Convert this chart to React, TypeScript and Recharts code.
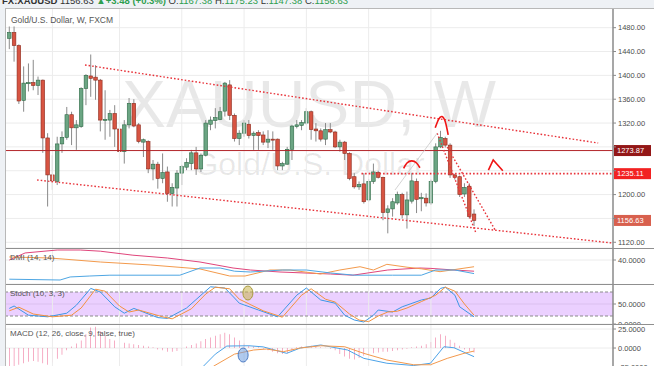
import React from "react";
import {
  ComposedChart,
  Bar,
  Line,
  XAxis,
  YAxis,
  CartesianGrid,
  ReferenceLine,
  ReferenceArea,
  ReferenceDot,
} from "recharts";

const FONT = '"Liberation Sans", Arial, sans-serif';
const W = 654;
const AXIS_W = 41;
const X_DOMAIN: [number, number] = [-0.69, 126];
const BODY_W = 3.6;

// weekly OHLC, XAUUSD
const opens = [
  1462, 1472, 1450, 1358, 1386, 1388, 1383, 1392, 1295, 1233,
  1222, 1285, 1296, 1334, 1312, 1314, 1378, 1399, 1397, 1392,
  1325, 1325, 1336, 1310, 1272, 1317, 1353, 1317, 1288, 1289,
  1243, 1251, 1227, 1238, 1202, 1211, 1236, 1246, 1252, 1270,
  1243, 1266, 1318, 1324, 1326, 1340, 1384, 1333, 1294, 1303,
  1318, 1299, 1304, 1300, 1288, 1293, 1293, 1248, 1251, 1276,
  1314, 1316, 1320, 1339, 1310, 1307, 1293, 1309, 1305, 1280,
  1288, 1269, 1230, 1213, 1218, 1191, 1222, 1237, 1229, 1170,
  1176, 1186, 1200, 1166, 1189, 1222, 1193, 1194, 1186, 1222,
  1280, 1294, 1283, 1233, 1230, 1201, 1214, 1167.38,
];
const highs = [
  1482, 1482, 1452, 1415, 1420, 1426, 1398, 1393, 1303, 1266,
  1297, 1306, 1347, 1339, 1325, 1380, 1402, 1435, 1417, 1394,
  1375, 1342, 1350, 1331, 1325, 1362, 1360, 1320, 1294, 1291,
  1258, 1255, 1269, 1247, 1219, 1241, 1250, 1261, 1275, 1280,
  1269, 1325, 1331, 1345, 1347, 1389, 1392, 1336, 1308, 1325,
  1325, 1306, 1308, 1306, 1308, 1306, 1294, 1255, 1280, 1317,
  1325, 1325, 1345, 1341, 1320, 1311, 1320, 1320, 1307, 1292,
  1290, 1271, 1236, 1222, 1236, 1226, 1252, 1240, 1230, 1182,
  1194, 1205, 1203, 1205, 1236, 1227, 1203, 1202, 1225, 1286,
  1307, 1297, 1286, 1235, 1232, 1219, 1219, 1175.23,
];
const lows = [
  1444, 1423, 1352, 1339, 1373, 1375, 1367, 1270, 1180, 1208,
  1216, 1270, 1292, 1283, 1275, 1312, 1350, 1364, 1359, 1306,
  1292, 1297, 1280, 1261, 1252, 1311, 1313, 1286, 1263, 1236,
  1224, 1210, 1219, 1188, 1180, 1180, 1216, 1241, 1241, 1233,
  1238, 1264, 1308, 1311, 1325, 1331, 1325, 1289, 1283, 1297,
  1294, 1275, 1275, 1283, 1278, 1275, 1241, 1241, 1250, 1258,
  1311, 1308, 1317, 1292, 1289, 1289, 1283, 1303, 1278, 1272,
  1258, 1224, 1210, 1208, 1185, 1188, 1218, 1227, 1157, 1135,
  1163, 1183, 1160, 1143, 1185, 1169, 1172, 1180, 1183, 1219,
  1278, 1279, 1228, 1225, 1196, 1196, 1160, 1147.38,
];
const closes = [
  1472, 1450, 1357, 1387, 1388, 1383, 1392, 1295, 1233, 1223,
  1285, 1296, 1334, 1312, 1317, 1378, 1400, 1395, 1392, 1325,
  1326, 1336, 1310, 1272, 1317, 1353, 1315, 1289, 1292, 1243,
  1251, 1227, 1237, 1202, 1212, 1236, 1247, 1254, 1270, 1243,
  1266, 1320, 1325, 1329, 1339, 1387, 1333, 1294, 1303, 1320,
  1299, 1303, 1299, 1288, 1293, 1292, 1248, 1252, 1276, 1315,
  1317, 1321, 1339, 1309, 1307, 1293, 1309, 1305, 1280, 1288,
  1269, 1227, 1213, 1217, 1188, 1222, 1238, 1229, 1170, 1176,
  1188, 1200, 1166, 1191, 1223, 1192, 1195, 1186, 1222, 1280,
  1296, 1283, 1233, 1229, 1200, 1212, 1163, 1156.63,
];

const priceTicks = [1120, 1160, 1200, 1240, 1280, 1320, 1360, 1400, 1440, 1480];
const coveredTicks = [1160, 1240, 1280];
const gridWeeks = [9, 23, 36, 49, 62, 75, 88];

const resistance = 1273.87;
const support = 1235.11;
const lastClose = 1156.63;

// drawings: [week index, price]
const upperChannel = [[15.8, 1417.4], [122.9, 1286.5]];
const lowerChannel = [[5.8, 1224.5], [125.8, 1118.8]];
const dropLineA = [[89.3, 1303], [97.4, 1135.5]];
const dropLineB = [[91.4, 1279.6], [101.4, 1140.6]];
const guideLine = [[80.5, 1207.7], [89.3, 1303]];
const peakArc = [[88.9, 1312], [89.6, 1326], [90.3, 1331], [91.0, 1322], [91.6, 1300]];
const midArc = [[82.3, 1244], [83, 1253], [84, 1256.5], [85, 1253], [85.7, 1245]];
const rightCaret = [[100, 1241], [101, 1258], [103, 1240]];

// DMI (14, 14)
const dmiAdx = [[0, 40], [3.3, 48.8], [10, 52.5], [14.8, 52.5], [19, 51], [25.8, 46], [33, 42.5], [39.8, 37.5], [46.7, 30], [50.3, 27.5], [56.5, 25], [67, 22.5], [71.7, 21], [79, 27.5], [85.7, 30], [88, 29.5], [92.8, 27.5], [97, 26]];
const dmiPlus = [[0, 43.8], [8.5, 42.5], [19, 37.5], [29.4, 33.8], [39.8, 28.8], [46, 20], [49.2, 20], [54.4, 27.5], [58.6, 27.5], [64.9, 22.5], [69, 27.5], [73.2, 31.6], [76, 27.5], [78.8, 34.6], [83, 31], [86, 29], [89.9, 25.4], [97, 31.6]];
const dmiMinus = [[0, 16], [10.6, 15], [12.7, 18.8], [16.8, 20], [21, 21], [35.6, 21], [39.8, 30], [44, 30], [47, 26], [50.3, 25], [57, 27.5], [62, 27.5], [67, 23.8], [72, 21], [80, 21], [86, 21], [89, 27.5], [93, 27.5], [97, 23]];

// Stoch (10, 3, 3)
const stochK = [[0, 39], [1, 45], [4, 22], [8, 18], [12, 27], [14, 47], [17, 89], [19, 80], [22, 43], [24, 27], [26, 39], [31, 16], [33, 14], [37, 40], [40, 72], [42, 93], [45, 90], [47, 65], [48, 52], [52, 35], [56, 18], [60, 72], [62, 90], [65, 60], [68, 52], [70, 22], [72, 10], [74, 5], [76, 22], [77, 35], [80, 30], [82, 43], [86, 60], [88, 65], [90, 89], [91, 92], [93, 72], [94, 43], [97, 18]];
const stochD = [[0, 33], [2, 42], [5, 25], [9, 18], [13, 22], [15, 40], [18, 87], [20, 82], [23, 45], [25, 30], [27, 35], [32, 18], [34, 13], [38, 38], [41, 75], [43, 92], [46, 88], [48, 62], [53, 33], [57, 17], [61, 72], [63, 88], [66, 62], [68, 55], [71, 25], [73, 10], [75, 6], [77, 20], [79, 30], [81, 32], [83, 40], [86, 56], [89, 72], [91, 92], [93, 82], [95, 50], [97, 22]];
const stochMark = [49.8, 77.5];

// MACD (12, 26, close, 9)
const macdHist = [
  -26, -26, -22, -20, -18, -17, -18, -20, -22, -19,
  -14, -9, -3, 2, 6, 10, 18, 27, 28, 22,
  16, 12, 10, 8, 7, 6, 5, 4, 3, 2,
  1, -2, -3, -5, -5, -4, -2, 2, 4, 6,
  9, 12, 14, 16, 18, 20, 18, 14, 10, 6,
  3, 2, 1, -1, -3, -5, -7, -8, -7, -4,
  1, 2, 3, 3, 2, 1, 0.5, -1, -3, -8,
  -11, -14, -15, -13, -10, -8, -7, -6, -5, -5,
  -4, -3, -2, -1, 1, 2, 3, 5, 8, 14,
  18, 16, 11, 7, 3, -2, -4, -6,
];
const macdLine = [[38, -45], [40.5, -24], [43, -8], [45.4, 2.6], [50, 3], [53, 1.5], [57.9, -7], [60.7, 0], [65, 4], [70.6, -2.6], [74, -13.6], [78.8, -20], [84.4, -23], [87.9, -20], [90.7, 1.7], [92.8, 0.4], [97, -11.4]];
const signalLine = [[40, -45], [42.6, -24], [47, -8], [51, -2.6], [53.7, -1.3], [57.2, -4.8], [60.7, 0], [65, 3], [70, 1.7], [74, -7], [78.8, -15.8], [84.4, -22], [87.9, -22], [91.4, -13.6], [94.9, -7], [97, -4]];
const macdMark = [48.8, -9.2];

const pts = (a: number[][]) => a.map(([i, v]) => ({ i, v }));
const seg = (a: number[][]) => a.map(([x, y]) => ({ x, y }));

function Candle(props: any) {
  const { x, y, width, height, payload } = props;
  if (!payload) return null;
  const { o, h, l, c } = payload;
  const top = Math.min(y, y + height);
  const bottom = Math.max(y, y + height);
  const toY = (p: number) => top + ((h - p) / (h - l)) * (bottom - top);
  const up = c >= o;
  const mid = x + (width || 0) / 2;
  const bodyTop = toY(Math.max(o, c));
  const bodyH = Math.max(1, toY(Math.min(o, c)) - bodyTop);
  return (
    <g>
      <line x1={mid} x2={mid} y1={top} y2={bottom} stroke="#8a8a8a" strokeWidth={1} />
      <rect
        x={mid - BODY_W / 2}
        y={bodyTop}
        width={BODY_W}
        height={bodyH}
        fill={up ? "#6ba583" : "#d75442"}
        stroke={up ? "#2f6a47" : "#8c2c1f"}
        strokeWidth={0.6}
      />
    </g>
  );
}

function PriceTag(props: any) {
  const { viewBox, text, bg } = props;
  if (!viewBox) return null;
  const x = viewBox.x + viewBox.width + 1;
  const y = viewBox.y;
  return (
    <g>
      <rect x={x} y={y - 5.5} width={37} height={11} fill={bg} />
      <text x={x + 3} y={y + 2.8} fontSize={7.5} fill="#fff" fontFamily={FONT}>
        {text}
      </text>
    </g>
  );
}

const tickRenderer = (digits: number, hidden: number[] = []) => (p: any) => {
  const v = p.payload.value;
  if (hidden.includes(v)) return <g />;
  return (
    <text x={p.x} y={p.y} dy={2.6} fontSize={7.5} fill="#4c4c4c" fontFamily={FONT}>
      {v.toFixed(digits)}
    </text>
  );
};

function Pane(props: any) {
  const { height, domain, ticks, digits, hidden, data, children } = props;
  return (
    <ComposedChart
      width={W}
      height={height}
      data={data}
      margin={{ top: 0, right: 0, bottom: 0, left: 6 }}
    >
      <XAxis type="number" dataKey="i" domain={X_DOMAIN} hide allowDataOverflow />
      <YAxis
        orientation="right"
        domain={domain}
        ticks={ticks}
        interval={0}
        width={AXIS_W}
        allowDataOverflow
        axisLine={{ stroke: "#8a8a8a", strokeWidth: 1.5 }}
        tickLine={{ stroke: "#8a8a8a" }}
        tickSize={3}
        tickMargin={2}
        tick={tickRenderer(digits, hidden)}
      />
      <CartesianGrid vertical={false} stroke="#ececec" />
      {gridWeeks.map((i) => (
        <ReferenceLine key={"g" + i} x={i} stroke="#ececec" />
      ))}
      {children}
    </ComposedChart>
  );
}

const dotted = { stroke: "#e8333a", strokeWidth: 1.4, strokeDasharray: "1.6 2" };
const pen = { stroke: "#f01515", strokeWidth: 1.6 };

export default function App() {
  const candles = opens.map((o, i) => ({ i, o, h: highs[i], l: lows[i], c: closes[i] }));
  const hist = macdHist.map((v, i) => ({ i, v }));

  return (
    <div
      style={{
        position: "absolute",
        left: 0,
        top: 0,
        width: W,
        height: 366,
        overflow: "hidden",
        background: "#eef1f5",
        fontFamily: FONT,
      }}
    >
      <div style={{ position: "absolute", left: 6, top: 8, width: 648, height: 358, background: "#fff" }} />

      <svg width={W} height={366} style={{ position: "absolute", left: 0, top: 0 }}>
        <text x={2} y={3.5} fontSize={9.5} fontFamily={FONT} fill="#333" fontWeight="bold">
          FX:XAUUSD
          <tspan fontWeight="normal"> 1156.63 </tspan>
          <tspan fill="#2e9e4f">▲+3.48 (+0.3%)</tspan>
          <tspan fontWeight="normal"> O:</tspan>
          <tspan fill="#2e9e4f" fontWeight="normal">1167.38</tspan>
          <tspan fontWeight="normal"> H:</tspan>
          <tspan fill="#2e9e4f" fontWeight="normal">1175.23</tspan>
          <tspan fontWeight="normal"> L:</tspan>
          <tspan fill="#2e9e4f" fontWeight="normal">1147.38</tspan>
          <tspan fontWeight="normal"> C:</tspan>
          <tspan fill="#2e9e4f" fontWeight="normal">1156.63</tspan>
        </text>
        <text x={309} y={127} fontSize={66} textAnchor="middle" fontFamily={FONT} fill="#000" fillOpacity={0.09}>
          XAUUSD, W
        </text>
        <text x={309} y={175} fontSize={32} textAnchor="middle" fontFamily={FONT} fill="#000" fillOpacity={0.09}>
          Gold/U.S. Dollar
        </text>
      </svg>

      <div style={{ position: "absolute", left: 0, top: 8 }}>
        <Pane height={240} domain={[1110.4, 1513]} ticks={priceTicks} digits={2} hidden={coveredTicks} data={candles}>
          <Bar
            dataKey={(d: any) => [d.l, d.h]}
            barSize={4}
            shape={<Candle />}
            isAnimationActive={false}
          />
          <ReferenceLine y={resistance} stroke="#b3262b" strokeWidth={1} label={<PriceTag text="1273.87" bg="#931717" />} />
          <ReferenceLine
            segment={[{ x: 73.5, y: support }, { x: 126, y: support }]}
            {...dotted}
            strokeWidth={1.8}
          />
          <ReferenceLine y={support} strokeOpacity={0} label={<PriceTag text="1235.11" bg="#f22222" />} />
          <ReferenceLine y={lastClose} strokeOpacity={0} label={<PriceTag text="1156.63" bg="#d8604e" />} />
          <ReferenceLine segment={seg(upperChannel)} {...dotted} />
          <ReferenceLine segment={seg(lowerChannel)} {...dotted} />
          <ReferenceLine segment={seg(dropLineA)} {...dotted} />
          <ReferenceLine segment={seg(dropLineB)} {...dotted} />
          <ReferenceLine segment={seg(guideLine)} stroke="#c8c8c8" strokeWidth={0.8} />
          <Line data={pts(peakArc)} dataKey="v" type="natural" dot={false} {...pen} isAnimationActive={false} />
          <Line data={pts(midArc)} dataKey="v" type="natural" dot={false} {...pen} isAnimationActive={false} />
          <Line data={pts(rightCaret)} dataKey="v" type="linear" dot={false} {...pen} isAnimationActive={false} />
        </Pane>
      </div>

      <div style={{ position: "absolute", left: 0, top: 248 }}>
        <Pane height={36} domain={[10, 55]} ticks={[40]} digits={4} data={candles}>
          <Line data={pts(dmiAdx)} dataKey="v" dot={false} stroke="#e0457b" strokeWidth={1} isAnimationActive={false} />
          <Line data={pts(dmiPlus)} dataKey="v" dot={false} stroke="#f39a4c" strokeWidth={1} isAnimationActive={false} />
          <Line data={pts(dmiMinus)} dataKey="v" dot={false} stroke="#4ea6e3" strokeWidth={1} isAnimationActive={false} />
        </Pane>
      </div>

      <div style={{ position: "absolute", left: 0, top: 284 }}>
        <Pane height={40} domain={[0, 100]} ticks={[0, 50]} digits={4} data={candles}>
          <ReferenceArea y1={20} y2={80} fill="#9915ff" fillOpacity={0.2} strokeOpacity={0} />
          <ReferenceLine y={80} stroke="#8a8a8a" strokeDasharray="3 2" />
          <ReferenceLine y={20} stroke="#8a8a8a" strokeDasharray="3 2" />
          <Line data={pts(stochK)} dataKey="v" dot={false} stroke="#3d97e6" strokeWidth={1} isAnimationActive={false} />
          <Line data={pts(stochD)} dataKey="v" dot={false} stroke="#f3923f" strokeWidth={1} isAnimationActive={false} />
          <ReferenceDot
            x={stochMark[0]}
            y={stochMark[1]}
            shape={(p: any) => (
              <ellipse cx={p.cx} cy={p.cy} rx={5} ry={7} fill="#c9b24a" fillOpacity={0.55} stroke="#a89a3c" />
            )}
          />
        </Pane>
      </div>

      <div style={{ position: "absolute", left: 0, top: 324 }}>
        <Pane height={60} domain={[-47.3, 31.6]} ticks={[25, 0, -25]} digits={4} data={hist}>
          <Bar dataKey="v" barSize={1} fill="#e8457a" isAnimationActive={false} />
          <Line data={pts(macdLine)} dataKey="v" dot={false} stroke="#4da3e8" strokeWidth={1} isAnimationActive={false} />
          <Line data={pts(signalLine)} dataKey="v" dot={false} stroke="#f3994d" strokeWidth={1} isAnimationActive={false} />
          <ReferenceDot
            x={macdMark[0]}
            y={macdMark[1]}
            shape={(p: any) => (
              <ellipse cx={p.cx} cy={p.cy} rx={5} ry={7} fill="#6f9ee0" fillOpacity={0.55} stroke="#4d7cc4" />
            )}
          />
        </Pane>
      </div>

      {/* pane frames */}
      <div style={{ position: "absolute", left: 6, top: 8, width: 648, height: 1, background: "#b8b8b8" }} />
      <div style={{ position: "absolute", left: 5, top: 8, width: 1, height: 358, background: "#b8b8b8" }} />
      {[247.5, 283.5, 323.5].map((t) => (
        <div key={t} style={{ position: "absolute", left: 6, top: t, width: 648, height: 1.5, background: "#8f8f8f" }} />
      ))}

      <div style={{ position: "absolute", left: 11, top: 15, fontSize: 8.5, color: "#555" }}>
        Gold/U.S. Dollar, W, FXCM
      </div>
      <div style={{ position: "absolute", left: 10, top: 253, fontSize: 8, color: "#555" }}>DMI (14, 14)</div>
      <div style={{ position: "absolute", left: 10, top: 289, fontSize: 8, color: "#555" }}>Stoch (10, 3, 3)</div>
      <div style={{ position: "absolute", left: 10, top: 329, fontSize: 8, color: "#555" }}>
        MACD (12, 26, close, 9, false, true)
      </div>
    </div>
  );
}
